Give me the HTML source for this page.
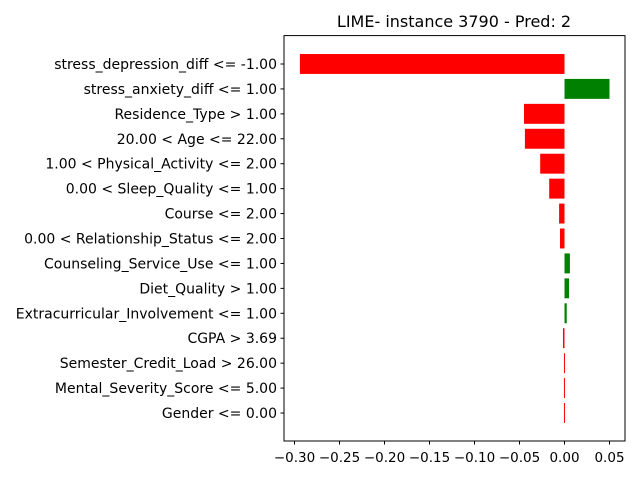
<!DOCTYPE html>
<html><head><meta charset="utf-8"><style>
body{margin:0;background:#fff;font-family:"Liberation Sans","DejaVu Sans",sans-serif;}
svg text{font-family:"DejaVu Sans","Liberation Sans",sans-serif;}
</style></head><body>
<svg id="c" width="640" height="480" xmlns="http://www.w3.org/2000/svg">
<text x="454" y="27" font-size="16" text-anchor="middle">LIME- instance 3790 - Pred: 2</text>
<g id="bars"></g><g id="yt"></g><g id="xt"></g>
<rect x="284" y="35.6" width="341" height="405.4" fill="none" stroke="#000" stroke-width="1"/>
</svg>
<script>
const labels=["stress_depression_diff <= -1.00","stress_anxiety_diff <= 1.00","Residence_Type > 1.00","20.00 < Age <= 22.00","1.00 < Physical_Activity <= 2.00","0.00 < Sleep_Quality <= 1.00","Course <= 2.00","0.00 < Relationship_Status <= 2.00","Counseling_Service_Use <= 1.00","Diet_Quality > 1.00","Extracurricular_Involvement <= 1.00","CGPA > 3.69","Semester_Credit_Load > 26.00","Mental_Severity_Score <= 5.00","Gender <= 0.00"];
const values=[-0.294,0.050,-0.045,-0.044,-0.027,-0.017,-0.006,-0.005,0.006,0.005,0.0025,-0.0017,-0.0006,-0.0006,-0.0006];
const xticks=[-0.30,-0.25,-0.20,-0.15,-0.10,-0.05,0.00,0.05];
const ns="http://www.w3.org/2000/svg";
function xs(v){return 564.5+v*900;}
function ys(i){return 64+i*24.93;}
const bars=document.getElementById('bars'),yt=document.getElementById('yt'),xt=document.getElementById('xt');
values.forEach((v,i)=>{
 const r=document.createElementNS(ns,'rect');
 
 
 r.setAttribute('x',Math.min(xs(0),xs(v)));r.setAttribute('width',Math.max(Math.abs(xs(v)-xs(0)),1));
 r.setAttribute('y',ys(i)-10);r.setAttribute('height',19.94);
 r.setAttribute('fill',v>0?'green':'red');bars.appendChild(r);
 const t=document.createElementNS(ns,'line');
 
 
 t.setAttribute('x1',280.5);t.setAttribute('x2',284);t.setAttribute('y1',ys(i));t.setAttribute('y2',ys(i));t.setAttribute('stroke','#000');yt.appendChild(t);
 const l=document.createElementNS(ns,'text');
 
 
 l.setAttribute('x',277);l.setAttribute('y',ys(i)+5);l.setAttribute('font-size','14');l.setAttribute('text-anchor','end');l.textContent=labels[i];yt.appendChild(l);
});
xticks.forEach(v=>{
 const t=document.createElementNS(ns,'line');
 
 
 t.setAttribute('x1',xs(v));t.setAttribute('x2',xs(v));t.setAttribute('y1',441);t.setAttribute('y2',444.5);t.setAttribute('stroke','#000');xt.appendChild(t);
 const l=document.createElementNS(ns,'text');
 
 
 l.setAttribute('x',xs(v));l.setAttribute('y',462);l.setAttribute('font-size','13.5');l.setAttribute('text-anchor','middle');l.textContent=(v<0?'\u2212':'')+Math.abs(v).toFixed(2);xt.appendChild(l);
});
</script>
</body></html>
